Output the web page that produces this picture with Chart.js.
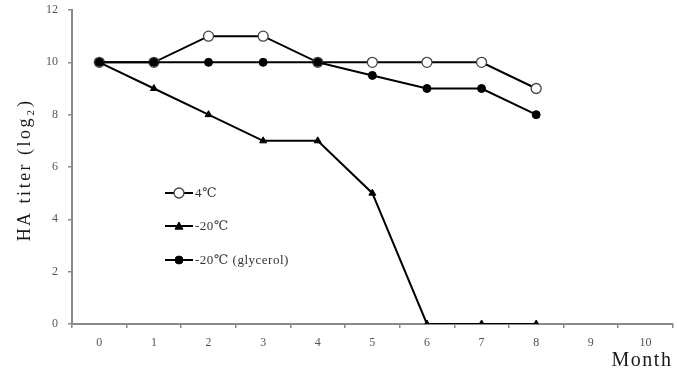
<!DOCTYPE html>
<html lang="en">
<head>
  <meta charset="UTF-8" />
  <title>HA titer</title>
  <script src="https://cdn.jsdelivr.net/npm/chart.js"></script>
  <style>
    * { box-sizing: border-box; }
    body { margin: 0; background: #fff; }
    #wrap { width: 679px; height: 372px; position: relative; }
  </style>
</head>
<body>
  <div id="wrap"><canvas id="chartCanvas"></canvas></div>
  <script>
    const months = ["0", "1", "2", "3", "4", "5", "6", "7", "8", "9", "10"];
    const yTicks = [0, 2, 4, 6, 8, 10, 12];
    const titer4C = [10, 10, 11, 11, 10, 10, 10, 10, 9];
    const titerMinus20 = [10, 9, 8, 7, 7, 5, 0, 0, 0];
    const titerGlycerol = [10, 10, 10, 10, 10, 9.5, 9, 9, 8];
    const xTitle = "Month";
    const yTitle = "HA titer (log\u2082)";

    const serif = "'Liberation Serif', 'DejaVu Serif', serif";
    const axisGrey = "#8a8a8a";

    // legend drawn inside the plot, like the original figure
    const insideLegend = {
      id: "insideLegend",
      afterDatasetsDraw(chart) {
        const ctx = chart.ctx;
        const rows = [193, 226, 260];
        chart.data.datasets.forEach((ds, i) => {
          const y = rows[i];
          ctx.save();
          ctx.strokeStyle = "#000";
          ctx.lineWidth = 2;
          ctx.beginPath();
          ctx.moveTo(165, y);
          ctx.lineTo(193, y);
          ctx.stroke();
          ctx.fillStyle = ds.pointBackgroundColor;
          ctx.strokeStyle = ds.pointBorderColor;
          ctx.lineWidth = ds.pointBorderWidth;
          ctx.beginPath();
          if (ds.pointStyle === "circle") {
            ctx.arc(179, y, ds.pointRadius, 0, Math.PI * 2);
          } else {
            const r = ds.pointRadius;
            ctx.moveTo(179, y - r);
            ctx.lineTo(179 + r, y + r * 0.8);
            ctx.lineTo(179 - r, y + r * 0.8);
            ctx.closePath();
          }
          ctx.fill();
          ctx.stroke();
          ctx.fillStyle = "#333";
          ctx.font = "13px " + serif;
          ctx.letterSpacing = "0.5px";
          ctx.textBaseline = "middle";
          ctx.fillText(ds.label, 195, y + 1);
          ctx.restore();
        });
      }
    };

    // axis titles with the wide letter spacing of the original
    const axisTitles = {
      id: "axisTitles",
      afterDraw(chart) {
        const ctx = chart.ctx;
        ctx.save();
        ctx.fillStyle = "#1a1a1a";
        ctx.textAlign = "center";
        ctx.textBaseline = "middle";
        ctx.letterSpacing = "1.5px";
        ctx.font = "20px " + serif;
        ctx.fillText(xTitle, 642, 361);
        ctx.translate(25, 170);
        ctx.rotate(-Math.PI / 2);
        ctx.letterSpacing = "2.5px";
        ctx.font = "18px " + serif;
        ctx.fillText(yTitle, 0, 0);
        ctx.restore();
      }
    };

    const ctx = document.getElementById("chartCanvas").getContext("2d");
    new Chart(ctx, {
      type: "line",
      data: {
        labels: months,
        datasets: [
          {
            label: "4\u2103",
            data: titer4C,
            borderColor: "#000",
            borderWidth: 2,
            pointStyle: "circle",
            pointRadius: 5,
            pointBorderWidth: 1.3,
            pointBorderColor: "#444",
            pointBackgroundColor: "#fff",
            order: 2
          },
          {
            label: "-20\u2103",
            data: titerMinus20,
            borderColor: "#000",
            borderWidth: 2,
            pointStyle: "triangle",
            pointRadius: 4,
            pointBorderWidth: 1,
            pointBorderColor: "#000",
            pointBackgroundColor: "#000",
            order: 1
          },
          {
            label: "-20\u2103 (glycerol)",
            data: titerGlycerol,
            borderColor: "#000",
            borderWidth: 2,
            pointStyle: "circle",
            pointRadius: 4,
            pointBorderWidth: 1,
            pointBorderColor: "#000",
            pointBackgroundColor: "#000",
            order: 0
          }
        ]
      },
      options: {
        responsive: true,
        maintainAspectRatio: false,
        animation: false,
        layout: { padding: { top: 10, right: 6, left: 0, bottom: 0 } },
        plugins: {
          legend: { display: false },
          tooltip: { enabled: false }
        },
        scales: {
          x: {
            offset: true,
            grid: {
              display: true,
              drawOnChartArea: false,
              offset: true,
              tickLength: 4,
              color: axisGrey,
              lineWidth: 1.5
            },
            border: { color: axisGrey, width: 2 },
            ticks: {
              color: "#555",
              font: { family: serif, size: 12 },
              padding: 8,
              maxRotation: 0
            },
            afterFit(scale) {
              scale.height = 48;
              scale.paddingLeft = 0;
              scale.paddingRight = 0;
            }
          },
          y: {
            min: 0,
            max: 12,
            afterBuildTicks(scale) {
              scale.ticks = yTicks.map(v => ({ value: v }));
            },
            grid: {
              display: true,
              drawOnChartArea: false,
              tickLength: 4,
              color: axisGrey,
              lineWidth: 1.5
            },
            border: { color: axisGrey, width: 2 },
            ticks: {
              color: "#555",
              font: { family: serif, size: 12 },
              padding: 10
            },
            afterFit(scale) {
              scale.width = 72;
              scale.paddingTop = 0;
              scale.paddingBottom = 0;
            }
          }
        }
      },
      plugins: [insideLegend, axisTitles]
    });
  </script>
</body>
</html>
